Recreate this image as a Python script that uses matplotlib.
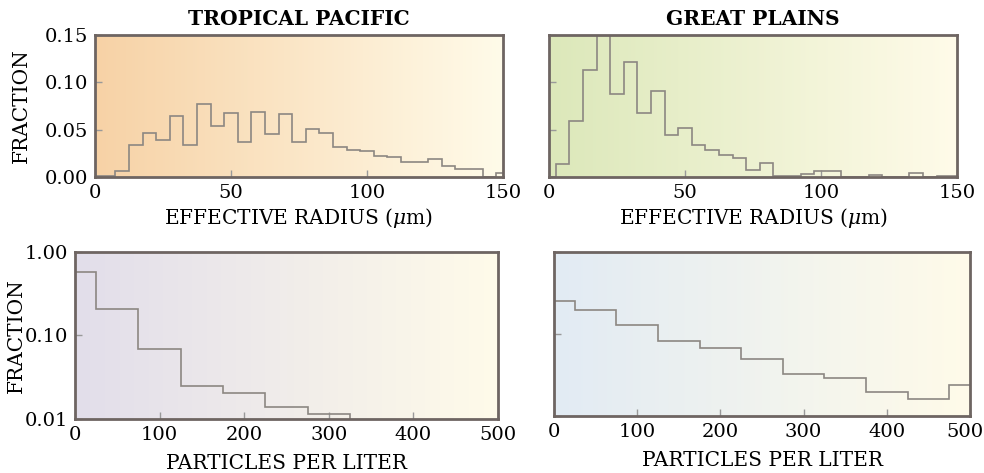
import matplotlib
matplotlib.use('Agg')
import matplotlib.pyplot as plt
from matplotlib.colors import LinearSegmentedColormap
from matplotlib.transforms import ScaledTranslation
import numpy as np

plt.rcParams['font.family'] = ['DejaVu Serif']
plt.rcParams['mathtext.fontset'] = 'dejavuserif'

# effective radius histograms (bin edges in um)
radius_edges = [0, 2.5] + [7.5 + 5 * k for k in range(29)] + [150]
pacific_radius = [0.001, 0.001, 0.0065, 0.0337, 0.047, 0.0388, 0.0649, 0.0337, 0.0772, 0.0536,
                  0.0674, 0.037, 0.0685, 0.0457, 0.067, 0.0366, 0.0507, 0.047, 0.0319, 0.0283,
                  0.0272, 0.0217, 0.0207, 0.0163, 0.0163, 0.0185, 0.0116, 0.0083, 0.0083, 0.0004,
                  0.004]
plains_radius = [0.0, 0.0138, 0.0587, 0.113, 0.17, 0.088, 0.122, 0.0678, 0.0913, 0.0442,
                 0.0514, 0.0333, 0.0283, 0.0236, 0.0196, 0.0072, 0.0145, 0.001, 0.0015, 0.003,
                 0.0063, 0.0063, 0.0, 0.0, 0.0025, 0.0, 0.0, 0.004, 0.0, 0.0015,
                 0.0015]

# particle concentration histograms (per liter)
conc_edges = [0, 25, 75, 125, 175, 225, 275, 325, 375, 425, 475, 500]
pacific_conc = [0.58, 0.206, 0.0695, 0.0249, 0.0207, 0.0141, 0.0115, 0.005, 0.005, 0.005, 0.005]
plains_conc = [0.251, 0.199, 0.128, 0.0828, 0.0674, 0.0494, 0.0324, 0.0289, 0.0198, 0.0161, 0.024]

radius_ticks = [0, 50, 100, 150]
frac_ticks = [0.0, 0.05, 0.10, 0.15]
frac_labels = ['0.00', '0.05', '0.10', '0.15']
conc_ticks = [0, 100, 200, 300, 400, 500]
log_ticks = [0.01, 0.1, 1.0]
log_labels = ['0.01', '0.10', '1.00']

cream = '#fffbe9'
spine_col = '#6e6562'
line_col = '#8c8782'


def style(ax, left_color):
    cmap = LinearSegmentedColormap.from_list('bg', [left_color, cream])
    grad = np.linspace(0, 1, 256).reshape(1, -1)
    ax.imshow(grad, extent=[0, 1, 0, 1], transform=ax.transAxes, aspect='auto',
              cmap=cmap, zorder=0, interpolation='bilinear')
    for s in ax.spines.values():
        s.set_color(spine_col)
        s.set_linewidth(2)
        s.set_zorder(5)
    ax.tick_params(direction='in', length=5, width=1, color='#999999',
                   labelsize=14, top=False, right=False)
    ax.tick_params(axis='x', pad=5)
    ax.tick_params(axis='y', pad=5)
    ax.tick_params(which='minor', length=0)


fig = plt.figure(figsize=(9.84, 4.73), dpi=100)

ax1 = fig.add_axes([0.0965, 0.6258, 0.4146, 0.300])
ax2 = fig.add_axes([0.558, 0.6258, 0.4146, 0.300])
ax3 = fig.add_axes([0.0762, 0.1142, 0.430, 0.353])
ax4 = fig.add_axes([0.563, 0.1205, 0.4228, 0.3467])

style(ax1, '#f7d2a6')
style(ax2, '#dce8ba')
style(ax3, '#e2deeb')
style(ax4, '#e2ebf4')

for ax, vals, title in [(ax1, pacific_radius, 'TROPICAL PACIFIC'),
                        (ax2, plains_radius, 'GREAT PLAINS')]:
    ax.stairs(vals, radius_edges, color=line_col, linewidth=1.2, baseline=None, zorder=2)
    ax.set_xlim(0, 150)
    ax.set_ylim(0, 0.15)
    ax.set_xticks(radius_ticks)
    ax.set_yticks(frac_ticks)
    ax.set_xlabel(r'EFFECTIVE RADIUS ($\mu$m)', fontsize=14.5, labelpad=3)
    ax.set_title(title, fontsize=14.5, fontweight='bold', pad=7)

ax1.set_yticklabels(frac_labels)
ax1.set_ylabel('FRACTION', fontsize=14.5)
ax1.yaxis.set_label_coords(-0.157, 0.5)
ax2.set_yticklabels([])

for ax, vals in [(ax3, pacific_conc), (ax4, plains_conc)]:
    ax.stairs(vals, conc_edges, color=line_col, linewidth=1.2, baseline=None, zorder=2)
    ax.set_yscale('log')
    ax.set_xlim(0, 500)
    ax.set_ylim(0.01, 1.0)
    ax.set_xticks(conc_ticks)
    ax.set_yticks(log_ticks)
    ax.set_xlabel('PARTICLES PER LITER', fontsize=14.5, labelpad=7)

ax3.set_yticklabels(log_labels)
ax3.set_ylabel('FRACTION', fontsize=14.5)
ax3.yaxis.set_label_coords(-0.116, 0.5)
ax4.set_yticklabels([])

# nudge the last x label of the right panel so it stays inside the figure
last = ax4.get_xticklabels()[-1]
last.set_transform(last.get_transform() + ScaledTranslation(-4 / 72, 0, fig.dpi_scale_trans))

fig.savefig('out.png', dpi=100)
